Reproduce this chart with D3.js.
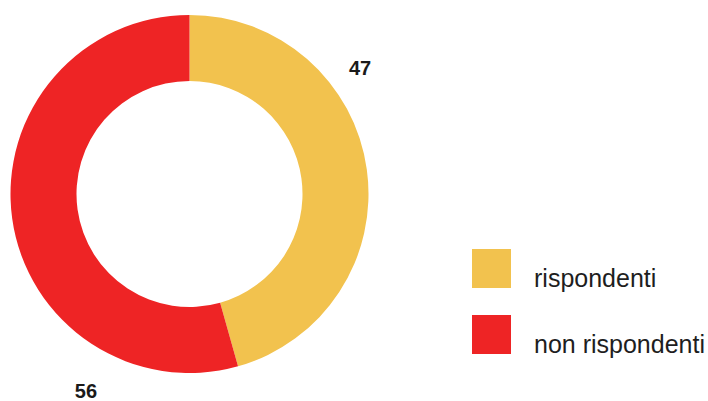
<!DOCTYPE html>
<html>
<head>
<meta charset="utf-8">
<script src="https://cdn.jsdelivr.net/npm/d3@7"></script>
<style>
  html, body { margin: 0; padding: 0; background: #ffffff; }
  svg { display: block; }
</style>
</head>
<body>
<svg id="chart" width="708" height="401"></svg>
<script>
// ---- data ----
const categories = ["rispondenti", "non rispondenti"];
const values = [47, 56];
const valueLabels = ["47", "56"];
const colors = ["#f2c24e", "#ee2425"];

// ---- layout ----
const W = 708, H = 401;
const cx = 189.5, cy = 194;
const outerR = 179, innerR = 113;

const svg = d3.select("#chart");

const pie = d3.pie().sort(null).value(d => d)(values);
const arc = d3.arc().innerRadius(innerR).outerRadius(outerR);

const g = svg.append("g").attr("transform", `translate(${cx},${cy})`);

g.selectAll("path.slice")
  .data(pie)
  .join("path")
  .attr("class", "slice")
  .attr("d", arc)
  .attr("fill", (d, i) => colors[i]);

// value labels placed outside the ring (polar position of the text baseline: angle in degrees from top, radius)
const labelPolar = [
  { angle: 55.1, r: 208 },
  { angle: 206.9, r: 228.8 }
];
g.selectAll("text.val")
  .data(pie)
  .join("text")
  .attr("class", "val")
  .attr("x", (d, i) => labelPolar[i].r * Math.sin(labelPolar[i].angle * Math.PI / 180))
  .attr("y", (d, i) => -labelPolar[i].r * Math.cos(labelPolar[i].angle * Math.PI / 180))
  .attr("text-anchor", "middle")
  .attr("font-family", "'Liberation Sans', Arial, sans-serif")
  .attr("font-weight", "bold")
  .attr("font-size", 20)
  .attr("fill", "#1a1a1a")
  .text((d, i) => valueLabels[i]);

// legend
const legend = svg.append("g").attr("transform", "translate(472,249)");
const items = legend.selectAll("g.item")
  .data(categories)
  .join("g")
  .attr("class", "item")
  .attr("transform", (d, i) => `translate(0,${i * 66})`);

items.append("rect")
  .attr("width", 39)
  .attr("height", 39)
  .attr("fill", (d, i) => colors[i]);

items.append("text")
  .attr("x", 62)
  .attr("y", 38)
  .attr("font-family", "'Liberation Sans', Arial, sans-serif")
  .attr("font-size", 25)
  .attr("fill", "#1e1e1e")
  .text(d => d);
</script>
</body>
</html>
